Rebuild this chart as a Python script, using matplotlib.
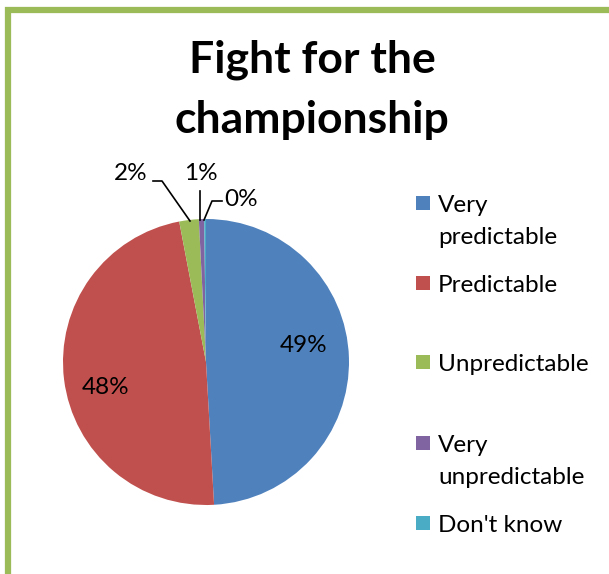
import matplotlib
matplotlib.use("Agg")
import matplotlib.pyplot as plt
from matplotlib.patches import Rectangle
import numpy as np

categories = ["Very\npredictable", "Predictable", "Unpredictable", "Very\nunpredictable", "Don't know"]
values = [49.1, 47.9, 2.2, 0.6, 0.2]
pct_labels = ["49%", "48%", "2%", "1%", "0%"]
colors = ["#4F81BD", "#C0504D", "#9BBB59", "#8064A2", "#4BACC6"]
title = "Fight for the\nchampionship"

W, H = 609, 574
fig = plt.figure(figsize=(W / 100, H / 100), dpi=100)
plt.rcParams['font.family'] = ['Lato', 'DejaVu Sans']

# border
fig.patches.append(Rectangle((8 / W, -0.1), 1.2, 1 - 9.5 / H + 0.1, transform=fig.transFigure,
                             fill=False, edgecolor="#9BBB59", linewidth=4.5, zorder=0))

cx, cy, r = 206, 362, 143
ax = fig.add_axes([(cx - r) / W, 1 - (cy + r) / H, 2 * r / W, 2 * r / H])
wedges, _ = ax.pie(values, colors=colors, startangle=90, counterclock=False, radius=1,
                   wedgeprops=dict(linewidth=0))
ax.set_xlim(-1, 1)
ax.set_ylim(-1, 1)
ax.set_aspect('equal')
ax.axis('off')

def px(x, y):
    return ((x - (cx - r)) / r - 1, 1 - (y - (cy - r)) / r)

fs = 17.5
# inside labels
ax.text(*px(304, 345), pct_labels[0], ha='center', va='center', fontsize=fs)
ax.text(*px(106, 387), pct_labels[1], ha='center', va='center', fontsize=fs)
# outside labels with leader lines
ax.text(*px(131, 174), pct_labels[2], ha='center', va='center', fontsize=fs, clip_on=False)
ax.text(*px(201, 174), pct_labels[3], ha='center', va='center', fontsize=fs, clip_on=False)
ax.text(*px(241, 199), pct_labels[4], ha='center', va='center', fontsize=fs, clip_on=False)
for pts in ([(153, 181), (162, 181), (190, 221)],
            [(200, 191), (200, 220)],
            [(222, 201), (212, 201), (204, 220)]):
    xy = np.array([px(*p) for p in pts])
    ax.plot(xy[:, 0], xy[:, 1], color='black', lw=1.2, clip_on=False)

fig.text(312 / W, 1 - 90 / H, title, ha='center', va='center', fontsize=32, fontweight='bold',
         linespacing=1.62)

# legend
ys = [203, 283, 362, 443, 523]
for lab, col, y in zip(categories, colors, ys):
    fig.patches.append(Rectangle((416 / W, 1 - (y + 7) / H), 14 / W, 14 / H,
                                 transform=fig.transFigure, facecolor=col, edgecolor='none'))
    fig.text(438 / W, 1 - (y - 8) / H, lab, ha='left', va='top', fontsize=fs, linespacing=1.65)

fig.savefig("out.png", dpi=100)
